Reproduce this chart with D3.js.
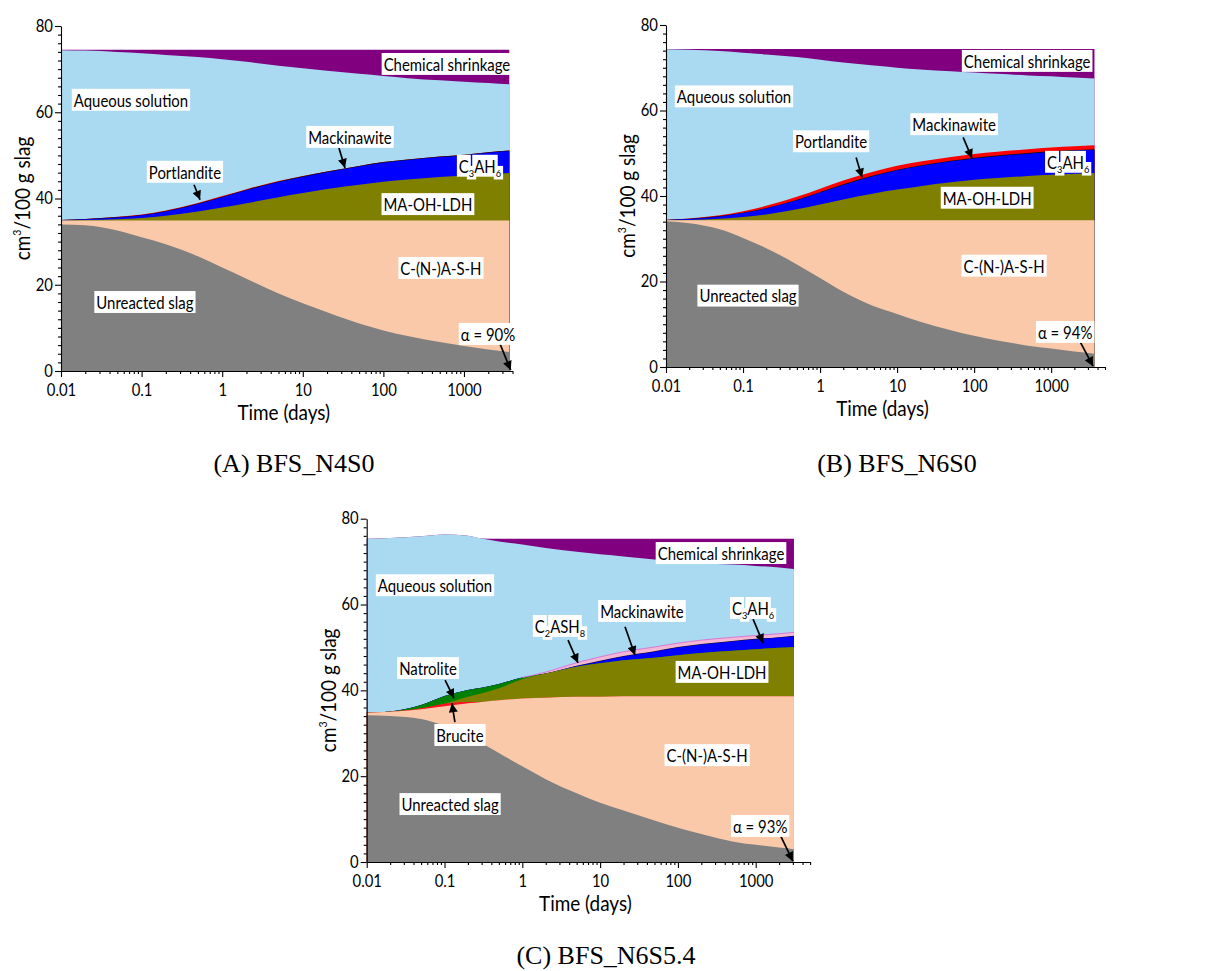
<!DOCTYPE html>
<html><head><meta charset="utf-8">
<script src="https://cdn.jsdelivr.net/npm/d3@7/dist/d3.min.js"></script>
<style>
body{margin:0;background:#fff}
svg text{fill:#000}
.sans{font-family:Lato,"Open Sans","DejaVu Sans",sans-serif}
.serif{font-family:"Liberation Serif","Times New Roman",serif}
</style>
</head><body>
<svg id="chart" width="1209" height="971"></svg>
<script>
// ---------------- DATA (cm3 / 100 g slag, layer thicknesses) ----------------
const xTickLabels = ["0.01","0.1","1","10","100","1000"];
const yTickLabels = [0,20,40,60,80];

// Panel A: BFS_N4S0
const timeA    = [0.01,0.02,0.05,0.1,0.2,0.5,1,2,5,10,20,50,100,200,500,1000,2000,3650];
const slagA    = [34.0,33.8,32.6,31.0,29.4,26.6,24.0,21.4,18.0,15.7,13.6,11.0,9.4,8.1,6.7,5.8,5.0,4.4];
const cashA    = [0.9,1.1,2.3,3.9,5.5,8.3,10.9,13.5,16.9,19.2,21.3,23.9,25.5,26.8,28.2,29.1,29.9,30.5];
const ldhA     = [0,0.1,0.3,0.6,1.1,2.1,3.0,4.0,5.4,6.4,7.3,8.3,9.0,9.5,10.1,10.4,10.7,11.0];
const c3ah6A   = [0.1,0.2,0.4,0.6,1.0,1.7,2.4,3.0,3.5,3.7,3.9,4.2,4.4,4.5,4.6,4.7,5.0,5.1];
const mackA    = [0,0.05,0.1,0.1,0.1,0.12,0.12,0.15,0.15,0.15,0.15,0.15,0.15,0.15,0.15,0.15,0.15,0.15];
const portlA   = [0,0,0.05,0.08,0.12,0.15,0.15,0.12,0.08,0.05,0,0,0,0,0,0,0,0];
const aqueousA = [39.4,39.05,38.25,37.42,36.08,33.83,31.73,29.53,26.77,25.0,23.35,21.35,19.95,18.85,17.65,16.95,16.05,15.35];
const shrinkA  = [0.1,0.2,0.5,0.8,1.2,1.7,2.2,2.8,3.7,4.3,4.9,5.6,6.1,6.6,7.1,7.4,7.7,8.0];

// Panel B: BFS_N6S0
const timeB    = [0.01,0.02,0.05,0.1,0.2,0.5,1,2,5,10,20,50,100,200,500,1000,2000,3650];
const slagB    = [34.1,33.6,32.2,30.2,27.8,24.0,20.8,17.6,14.2,12.4,10.6,8.6,7.3,6.2,5.0,4.3,3.6,3.1];
const cashB    = [0.2,0.7,2.1,4.1,6.5,10.3,13.5,16.7,20.1,21.9,23.7,25.7,27.0,28.1,29.3,30.0,30.7,31.2];
const ldhB     = [0,0.1,0.4,0.8,1.4,2.6,3.7,4.9,6.3,7.2,8.0,8.9,9.5,9.9,10.4,10.7,10.9,11.1];
const c3ah6B   = [0.1,0.2,0.5,0.9,1.4,2.1,2.8,3.4,4.1,4.5,4.7,4.9,5.0,5.1,5.2,5.3,5.4,5.4];
const mackB    = [0,0.05,0.1,0.1,0.1,0.12,0.12,0.15,0.15,0.15,0.15,0.15,0.15,0.15,0.15,0.15,0.15,0.15];
const portlB   = [0.05,0.1,0.2,0.35,0.5,0.7,0.8,0.9,0.9,0.9,0.9,0.9,0.9,0.9,0.9,0.9,0.9,0.9];
const aqueousB = [39.85,39.45,38.4,37.05,35.4,32.68,30.18,27.55,24.75,22.95,21.55,20.05,19.05,18.25,17.25,16.65,16.05,15.65];
const shrinkB  = [0.1,0.2,0.5,0.9,1.3,1.9,2.5,3.2,3.9,4.4,4.8,5.2,5.5,5.8,6.2,6.4,6.7,6.9];

// Panel C: BFS_N6S5.4
const timeC      = [0.01,0.02,0.05,0.1,0.2,0.3,0.5,1,2,5,10,20,50,100,200,500,1000,2000,3100];
const slagC      = [34.2,34.0,33.3,31.7,29.2,27.7,25.4,22.3,19.3,16.0,13.8,12.0,9.7,8.0,6.5,4.8,4.0,3.4,3.0];
const cashC      = [0.6,1.0,2.3,4.6,7.8,9.6,12.3,15.8,19.0,22.5,24.7,26.6,28.9,30.6,32.1,33.8,34.6,35.2,35.6];
const bruciteC   = [0,0,0.2,0.6,0.3,0,0,0,0,0,0,0,0,0,0,0,0,0,0];
const ldhC       = [0,0,0,0,1.2,2.0,2.8,4.5,5.6,7.0,7.8,8.4,9.0,9.6,10.1,10.6,11.0,11.3,11.5];
const natroliteC = [0,0.1,0.8,1.8,1.6,1.3,1.0,0.4,0,0,0,0,0,0,0,0,0,0,0];
const c3ah6C     = [0,0,0,0,0,0,0,0,0,0.15,0.5,0.9,1.4,1.8,2.0,2.2,2.3,2.4,2.5];
const mackC      = [0,0,0,0,0,0,0,0,0.05,0.1,0.1,0.1,0.1,0.1,0.1,0.1,0.1,0.1,0.1];
const c2ash8C    = [0,0,0,0,0,0,0,0,0.3,0.7,0.9,1.0,1.0,0.9,0.9,0.85,0.8,0.8,0.8];
const aqueousC   = [40.5,40.4,39.3,37.6,35.9,34.8,33.2,31.0,28.95,25.85,23.9,22.2,20.4,19.1,18.0,16.95,16.2,15.4,14.8];
const shrinkC    = [0,0,0,0,0,0,0.6,1.3,2.1,3.0,3.6,4.1,4.8,5.2,5.6,6.0,6.3,6.7,7.0];

const captions = ["(A) BFS_N4S0","(B) BFS_N6S0","(C) BFS_N6S5.4"];

// ---------------- STYLE ----------------
const COLORS = {
  slag:"#808080", cash:"#FAC9A9", brucite:"#FF1020", ldh:"#808000", natrolite:"#008000",
  c3ah6:"#0000FF", mack:"#101010", portl:"#FF0000", c2ash8:"#F3B7D3", aqueous:"#AAD9F2", shrink:"#800080"
};
const SX = 0.9; // horizontal squeeze to mimic a narrow sans face

const svg = d3.select("#chart");
const defs = svg.append("defs");
defs.append("marker").attr("id","arrow").attr("viewBox","0 0 10 10")
  .attr("refX",10).attr("refY",5).attr("markerWidth",10).attr("markerHeight",9)
  .attr("markerUnits","userSpaceOnUse").attr("orient","auto")
  .append("path").attr("d","M0,0 L10,5 L0,10 Z").attr("fill","#000");

function addLabel(g, x, y, pieces, fs){
  const outer = g.append("g");
  const grp = outer.append("g").attr("class","sans");
  let cx = 0; const items = [];
  pieces.forEach(p=>{
    const size = p.sub ? fs*0.62 : fs;
    const dy = p.sub ? fs*0.42 : 0;
    const t = grp.append("text").attr("x",cx).attr("y",dy).attr("font-size",size)
      .attr("dominant-baseline","central").text(p.t);
    const w = t.node().getComputedTextLength();
    items.push({x:cx,w,size,dy}); cx += w;
  });
  const pad = 2.2;
  items.forEach(it=>{
    grp.insert("rect","text").attr("x",it.x-pad).attr("y",it.dy-it.size*0.66)
      .attr("width",it.w+2*pad).attr("height",it.size*1.32).attr("fill","#fff");
  });
  grp.attr("transform",`scale(${SX},1) translate(${-cx/2},0)`);
  outer.attr("transform",`translate(${x},${y})`);
}

function drawPanel(cfg){
  const {left, top, width, height, xMax} = cfg;
  const x = d3.scaleLog().domain([0.01, xMax]).range([left, left+width]);
  const y = d3.scaleLinear().domain([0,80]).range([top+height, top]);
  const g = svg.append("g");

  const keys = cfg.layers.map(l=>l.key);
  const rows = cfg.time.map((t,i)=>{
    const r = {t};
    cfg.layers.forEach(l=>{ r[l.key] = l.values[i]; });
    return r;
  });
  const series = d3.stack().keys(keys)(rows);
  // paint each layer from the baseline up to its top, topmost first: no seams between layers
  const area = d3.area().x(d=>x(d.data.t)).y0(y(0)).y1(d=>y(d[1])).curve(d3.curveMonotoneX);
  g.selectAll("path.layer").data(series.slice().reverse()).join("path").attr("class","layer")
    .attr("d",area).attr("fill",d=>COLORS[d.key]);

  if (cfg.outlineKey){
    const s = series.find(d=>d.key===cfg.outlineKey);
    const line = d3.line().defined((d,i)=>cfg.time[i]>=1).x(d=>x(d.data.t)).y(d=>y(d[1])).curve(d3.curveMonotoneX);
    g.append("path").attr("d",line(s)).attr("fill","none").attr("stroke","#D77AD7").attr("stroke-width",1);
  }

  // axes
  const majors = xTickLabels.map(Number);
  const minors = [];
  for (let e=-2; e<=3; e++) for (let k=2;k<=9;k++){ const v=k*Math.pow(10,e); if (v<=xMax) minors.push(v); }
  g.append("g").attr("transform",`translate(0,${top+height})`)
    .call(d3.axisBottom(x).tickValues(majors).tickFormat((d,i)=>xTickLabels[i]).tickSizeInner(6).tickSizeOuter(0).tickPadding(7));
  g.append("g").attr("transform",`translate(0,${top+height})`)
    .call(d3.axisBottom(x).tickValues(minors).tickFormat("").tickSizeInner(3).tickSizeOuter(0))
    .select(".domain").remove();
  g.append("g").attr("transform",`translate(${left},0)`)
    .call(d3.axisLeft(y).tickValues(yTickLabels).tickSizeInner(6).tickSizeOuter(0).tickPadding(3));
  const yMinor = d3.range(2,80,2).filter(v=>v%20!==0);
  g.append("g").attr("transform",`translate(${left},0)`)
    .call(d3.axisLeft(y).tickValues(yMinor).tickFormat("").tickSizeInner(3).tickSizeOuter(0))
    .select(".domain").remove();
  g.selectAll(".tick text").attr("font-size",16.5).attr("font-family",null).attr("class","sans")
    .attr("transform",`scale(${SX},1)`);
  g.selectAll(".domain, .tick line").attr("stroke","#000").attr("stroke-width",1.1);

  g.append("text").attr("class","sans")
    .attr("transform",`translate(${left+width/2-3},${top+height+49}) scale(0.88,1)`)
    .attr("text-anchor","middle").attr("font-size",21.5).text("Time (days)");
  const yl = g.append("text").attr("class","sans")
    .attr("transform",`translate(${left-31},${top+height/2}) rotate(-90) scale(0.88,1)`)
    .attr("text-anchor","middle").attr("font-size",21.5);
  yl.append("tspan").text("cm");
  yl.append("tspan").attr("font-size",12).attr("dy",-9).text("3");
  yl.append("tspan").attr("dy",9).text("/100 g slag");

  // arrows
  cfg.arrows.forEach(a=>{
    g.append("line").attr("x1",x(a[0])).attr("y1",y(a[1])).attr("x2",x(a[2])).attr("y2",y(a[3]))
      .attr("stroke","#000").attr("stroke-width",1.7).attr("marker-end","url(#arrow)");
  });
  // labels
  cfg.labels.forEach(l=>addLabel(g, x(l.t), y(l.v), l.pieces, 16.6));

  svg.append("text").attr("class","serif").attr("x",cfg.cap[0]).attr("y",cfg.cap[1]).attr("text-anchor","middle")
    .attr("font-size",26).text(cfg.caption);
}

const P = s=>[{t:s}];
const C3AH6 = [{t:"C"},{t:"3",sub:true},{t:"AH"},{t:"6",sub:true}];
const C2ASH8 = [{t:"C"},{t:"2",sub:true},{t:"ASH"},{t:"8",sub:true}];

drawPanel({
  left:61, top:26, width:451.5, height:345, xMax:4000, time:timeA, caption:captions[0], cap:[294,472],
  layers:[{key:"slag",values:slagA},{key:"cash",values:cashA},{key:"ldh",values:ldhA},{key:"c3ah6",values:c3ah6A},
          {key:"mack",values:mackA},{key:"portl",values:portlA},{key:"aqueous",values:aqueousA},{key:"shrink",values:shrinkA}],
  labels:[
    {t:615,v:71.2,pieces:P("Chemical shrinkage")},{t:0.0738,v:62.9,pieces:P("Aqueous solution")},
    {t:38.5,v:54.3,pieces:P("Mackinawite")},{t:0.345,v:46.2,pieces:P("Portlandite")},
    {t:1580,v:47.6,pieces:C3AH6},{t:357,v:38.7,pieces:P("MA-OH-LDH")},
    {t:518,v:23.9,pieces:P("C-(N-)A-S-H")},{t:0.110,v:16.0,pieces:P("Unreacted slag")},
    {t:1986,v:8.6,pieces:P("α = 90%")}],
  arrows:[[28.1,51.7,33.4,47.1],[0.447,43.2,0.531,39.7],[2800,6.3,3800,0.2]]
});

drawPanel({
  left:666, top:25, width:439, height:342, xMax:5000, time:timeB, caption:captions[1], cap:[897,472],
  layers:[{key:"slag",values:slagB},{key:"cash",values:cashB},{key:"ldh",values:ldhB},{key:"c3ah6",values:c3ah6B},
          {key:"mack",values:mackB},{key:"portl",values:portlB},{key:"aqueous",values:aqueousB},{key:"shrink",values:shrinkB}],
  labels:[
    {t:488,v:71.6,pieces:P("Chemical shrinkage")},{t:0.0764,v:63.3,pieces:P("Aqueous solution")},
    {t:1.39,v:52.8,pieces:P("Portlandite")},{t:55,v:56.8,pieces:P("Mackinawite")},
    {t:1663,v:48.0,pieces:C3AH6},{t:147.6,v:39.6,pieces:P("MA-OH-LDH")},
    {t:245,v:23.7,pieces:P("C-(N-)A-S-H")},{t:0.116,v:16.7,pieces:P("Unreacted slag")},
    {t:1520,v:8.2,pieces:P("α = 94%")}],
  arrows:[[2.94,49.0,3.51,44.3],[72,53.7,94,48.8],[2380,5.9,3500,0.2]]
});

drawPanel({
  left:366.7, top:518.7, width:443.4, height:343.3, xMax:5000, time:timeC, caption:captions[2], cap:[606,964],
  outlineKey:"c2ash8",
  layers:[{key:"slag",values:slagC},{key:"cash",values:cashC},{key:"brucite",values:bruciteC},{key:"ldh",values:ldhC},
          {key:"natrolite",values:natroliteC},{key:"c3ah6",values:c3ah6C},{key:"mack",values:mackC},
          {key:"c2ash8",values:c2ash8C},{key:"aqueous",values:aqueousC},{key:"shrink",values:shrinkC}],
  labels:[
    {t:358,v:72.0,pieces:P("Chemical shrinkage")},{t:0.0755,v:64.5,pieces:P("Aqueous solution")},
    {t:3.05,v:55.0,pieces:C2ASH8},{t:34.5,v:58.5,pieces:P("Mackinawite")},
    {t:925,v:59.2,pieces:C3AH6},{t:0.0614,v:45.2,pieces:P("Natrolite")},
    {t:0.158,v:29.6,pieces:P("Brucite")},{t:369,v:44.3,pieces:P("MA-OH-LDH")},
    {t:237,v:24.9,pieces:P("C-(N-)A-S-H")},{t:0.118,v:13.5,pieces:P("Unreacted slag")},
    {t:1140,v:8.4,pieces:P("α = 93%")}],
  arrows:[[3.87,51.7,5.2,46.4],[20.9,54.8,28.1,48.2],[925,56.6,1245,51.0],
          [0.1017,42.4,0.1324,38.2],[0.136,32.6,0.1247,37.0],[2060,6.3,3000,0.2]]
});
</script>
</body></html>
